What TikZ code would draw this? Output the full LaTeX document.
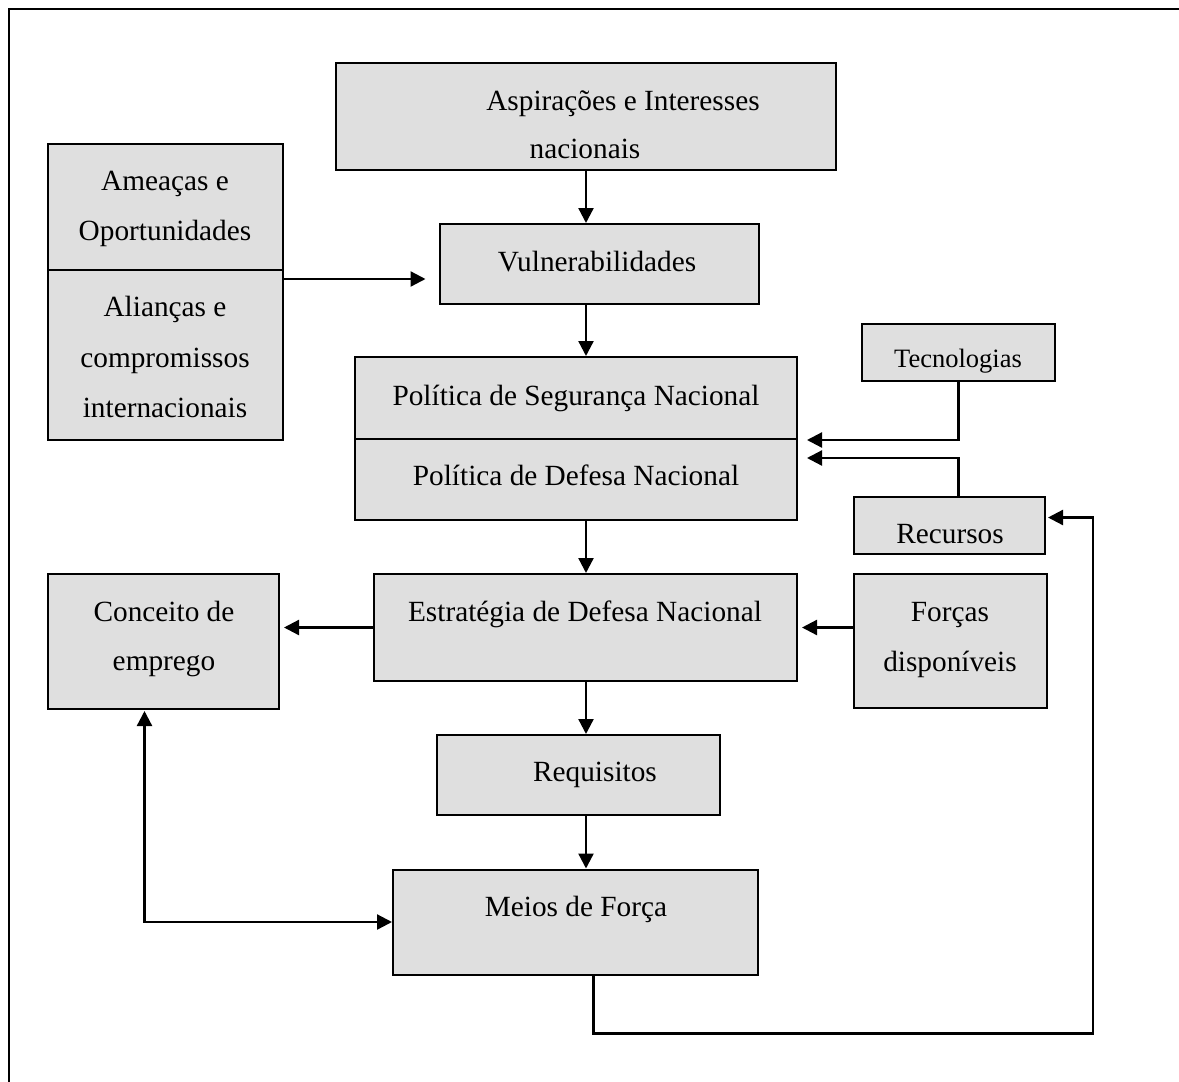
\documentclass[tikz,border=0pt]{standalone}
\usepackage{fontspec}
\setmainfont{Liberation Serif}
\usetikzlibrary{arrows.meta,calc}
\definecolor{boxfill}{RGB}{223,223,223}
\tikzset{
  blk/.style={draw=black, fill=boxfill, line width=2pt, rectangle, inner sep=0pt},
  txt/.style={anchor=base, inner sep=0pt, font=\fontsize{29.3}{35}\selectfont},
  smalltxt/.style={anchor=base, inner sep=0pt, font=\fontsize{26.5}{32}\selectfont},
  arr/.style={line width=2.3pt, -{Triangle[length=15pt,width=15pt]}},
  arrtwo/.style={line width=2.3pt, {Triangle[length=15pt,width=15pt]}-{Triangle[length=15pt,width=15pt]}},
  wire/.style={line width=2pt}
}
\begin{document}
\begin{tikzpicture}[x=1pt,y=-1pt]
\useasboundingbox (0,0) rectangle (1179,1082);
\fill[white] (0,0) rectangle (1179,1082);
% page frame
\draw[line width=2.5pt] (9,1100) -- (9,9) -- (1200,9);

% boxes
\node[blk, minimum width=500pt, minimum height=107pt] (asp) at (586,116.5) {};
\node[blk, minimum width=319pt, minimum height=80pt]  (vul) at (599,264) {};
\node[blk, minimum width=235pt, minimum height=126pt] (thr) at (165,207) {};
\node[blk, minimum width=235pt, minimum height=170pt] (ali) at (165,355) {};
\node[blk, minimum width=442pt, minimum height=82pt]  (psn) at (576,398) {};
\node[blk, minimum width=442pt, minimum height=81pt]  (pdn) at (576,479.5) {};
\node[blk, minimum width=193pt, minimum height=57pt]  (tec) at (958.5,352.5) {};
\node[blk, minimum width=191pt, minimum height=57pt]  (rec) at (949.5,525.5) {};
\node[blk, minimum width=423pt, minimum height=107pt] (est) at (585.5,627.5) {};
\node[blk, minimum width=193pt, minimum height=134pt] (for) at (950.5,641) {};
\node[blk, minimum width=231pt, minimum height=135pt] (con) at (163.5,641.5) {};
\node[blk, minimum width=283pt, minimum height=80pt]  (req) at (578.5,775) {};
\node[blk, minimum width=365pt, minimum height=105pt] (mei) at (575.5,922) {};

% labels
\node[txt] (aspA) at (623,110) {Aspirações e Interesses};
\node[txt] (aspB) at (585,158) {nacionais};
\node[txt] (vulT) at (597,271) {Vulnerabilidades};
\node[txt] (thrA) at (165,190) {Ameaças e};
\node[txt] (thrB) at (165,240) {Oportunidades};
\node[txt] (aliA) at (165,316) {Alianças e};
\node[txt] (aliB) at (165,367) {compromissos};
\node[txt] (aliC) at (165,417) {internacionais};
\node[txt] (psnT) at (576,405) {Política de Segurança Nacional};
\node[txt] (pdnT) at (576,485) {Política de Defesa Nacional};
\node[smalltxt] (tecT) at (958,367) {Tecnologias};
\node[txt] (recT) at (950,543) {Recursos};
\node[txt] (estT) at (585,621) {Estratégia de Defesa Nacional};
\node[txt] (forA) at (950,621) {Forças};
\node[txt] (forB) at (950,671) {disponíveis};
\node[txt] (conA) at (164,621) {Conceito de};
\node[txt] (conB) at (164,670) {emprego};
\node[txt] (reqT) at (595,781) {Requisitos};
\node[txt] (meiT) at (576,916) {Meios de Força};

% main spine
\draw[arr] (asp.south) -- (asp.south |- vul.north);
\draw[arr] (asp.south |- vul.south) -- (asp.south |- psn.north);
\draw[arr] (asp.south |- pdn.south) -- (asp.south |- est.north);
\draw[arr] (asp.south |- est.south) -- (asp.south |- req.north);
\draw[arr] (asp.south |- req.south) -- (asp.south |- mei.north);

% side inputs
\draw[arr] ($(ali.north east)+(0,10)$) -- ($(vul.west |- ali.north east)+(-13,10)$);
\draw[arr] (tec.south) |- ($(psn.south east)+(9,0)$);
\draw[arr] (rec.north -| tec.south) |- ($(pdn.north east)+(9,20)$);
\draw[arr] (for.west |- est.east) -- ($(est.east)+(4,0)$);
\draw[arr] (est.west) -- ($(con.east |- est.west)+(4,0)$);
\draw[arrtwo] ($(con.south)+(-19,1)$) |- (mei.west);

% feedback loop from Meios de Força to Recursos
\coordinate (loopStart) at ($(mei.south)+(18,0)$);
\coordinate (loopCorner) at ($(rec.east)+(47,-8)$);
\draw[arr] (loopStart) -- ++(0,58) -| (loopCorner) -- ($(rec.east)+(2,-8)$);
\end{tikzpicture}
\end{document}
